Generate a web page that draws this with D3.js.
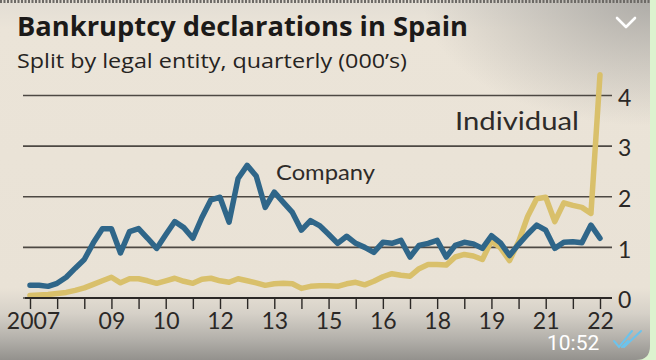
<!DOCTYPE html>
<html>
<head>
<meta charset="utf-8">
<script src="https://cdn.jsdelivr.net/npm/d3@7/dist/d3.min.js"></script>
<style>
html,body{margin:0;padding:0;background:#dcf3cf;}
svg{display:block;}
</style>
</head>
<body>
<svg id="chart" width="656" height="360"></svg>
<script>
// ---- data (thousands, quarterly 2007Q1 .. 2022Q4) ----
const company = [0.24,0.24,0.22,0.28,0.40,0.58,0.75,1.08,1.36,1.36,0.88,1.30,1.36,1.17,0.97,1.24,
  1.50,1.38,1.17,1.58,1.93,1.98,1.49,2.35,2.61,2.40,1.78,2.08,1.88,1.68,1.33,1.52,
  1.42,1.25,1.07,1.21,1.07,0.99,0.89,1.09,1.07,1.13,0.80,1.03,1.07,1.13,0.80,1.03,
  1.09,1.06,0.97,1.22,1.08,0.83,1.05,1.25,1.43,1.33,0.97,1.09,1.10,1.08,1.43,1.17];
const individual = [0.04,0.05,0.06,0.08,0.10,0.14,0.19,0.26,0.33,0.40,0.29,0.37,0.37,0.33,0.28,0.33,
  0.38,0.32,0.28,0.36,0.38,0.33,0.30,0.37,0.33,0.29,0.24,0.27,0.28,0.27,0.18,0.22,
  0.23,0.23,0.22,0.27,0.30,0.25,0.32,0.41,0.47,0.44,0.42,0.57,0.65,0.65,0.64,0.80,
  0.85,0.82,0.75,1.12,0.98,0.73,1.10,1.60,1.95,1.98,1.50,1.87,1.82,1.78,1.66,4.40];
const xTickLabels = ["2007","","","09","","10","","12","","13","","15","","16","","18","","19","","21","","22"];
const yTicks = [0,1,2,3,4];
const title = "Bankruptcy declarations in Spain";
const subtitle = "Split by legal entity, quarterly (000\u2019s)";

const svg = d3.select("#chart");
const W = 656, H = 360;

// ---- background ----
const defs = svg.append("defs");
const lg = defs.append("linearGradient").attr("id","bg").attr("x1",0).attr("y1",0).attr("x2",0).attr("y2",1);
[[0,"#e2ddd4"],[0.08,"#ebe4d8"],[0.8,"#e9e2d6"],[0.87,"#d6d1c8"],[0.94,"#b4b1ab"],[1,"#93918d"]]
  .forEach(([o,c])=>lg.append("stop").attr("offset",o).attr("stop-color",c));
const rg = defs.append("radialGradient").attr("id","corner").attr("cx",1).attr("cy",0).attr("r",0.35);
rg.append("stop").attr("offset",0).attr("stop-color","#a9a7a3").attr("stop-opacity",0.9);
rg.append("stop").attr("offset",1).attr("stop-color","#a9a7a3").attr("stop-opacity",0);

svg.append("rect").attr("x",0).attr("y",0).attr("width",650).attr("height",H)
  .attr("fill","url(#bg)");
svg.append("rect").attr("x",0).attr("y",0).attr("width",650).attr("height",H)
  .attr("fill","url(#corner)");
// dotted top edge
svg.append("line").attr("x1",0).attr("x2",650).attr("y1",1.5).attr("y2",1.5)
  .attr("stroke","#6d6a66").attr("stroke-width",3).attr("stroke-dasharray","2,1.5");
// green right border / rounded corner
svg.append("path").attr("d",`M650,0 L656,0 L656,360 L636,360 Q650,360 650,346 Z`).attr("fill","#dcf3cf");

// ---- scales ----
const x = d3.scaleLinear().domain([0, company.length-1]).range([30, 600]);
const y = d3.scaleLinear().domain([0, 4]).range([297.5, 95]);

// ---- gridlines / y axis ----
const yAxis = d3.axisRight(y).tickValues(yTicks).tickSize(-(612-23)).tickFormat(d3.format("d"));
const gy = svg.append("g").attr("transform","translate(612,0)").call(yAxis);
gy.select(".domain").remove();
gy.selectAll(".tick line").attr("stroke","#4d4843").attr("stroke-width",1.6);
gy.selectAll(".tick text").attr("x",6).attr("dy","0.45em")
  .attr("fill","#2b2826").style("font-family","Lato, 'Open Sans', sans-serif").style("font-size","23px");

// ---- lines ----
const line = d3.line().x((d,i)=>x(i)).y(d=>y(d)).curve(d3.curveLinear);
svg.append("path").datum(individual).attr("d",line).attr("fill","none")
  .attr("stroke","#d9c06b").attr("stroke-width",5.5).attr("stroke-linejoin","round").attr("stroke-linecap","round");
svg.append("path").datum(company).attr("d",line).attr("fill","none")
  .attr("stroke","#2f6689").attr("stroke-width",5.5).attr("stroke-linejoin","round").attr("stroke-linecap","round");

// ---- x axis ----
const xAxis = d3.axisBottom(x).tickValues(d3.range(0, company.length, 3))
  .tickSize(11).tickPadding(4).tickFormat((d,i)=>xTickLabels[i]);
const gx = svg.append("g").attr("transform","translate(0,298)").call(xAxis);
gx.select(".domain").attr("d","M25,0H612").attr("stroke","#2b2826").attr("stroke-width",2.2);
gx.selectAll(".tick line").attr("stroke","#2b2826").attr("stroke-width",1.4);
gx.selectAll(".tick text").attr("fill","#2b2826")
  .style("font-family","Lato, 'Open Sans', sans-serif").style("font-size","23px");
gx.selectAll(".tick text").filter((d,i)=>i===0).attr("dx",3);

// ---- labels ----
svg.append("text").attr("x",455).attr("y",130).text("Individual")
  .attr("fill","#2e2b29").style("font-family","Lato, 'Open Sans', sans-serif").style("font-size","25px")
  .attr("textLength",124).attr("lengthAdjust","spacingAndGlyphs");
svg.append("text").attr("x",276).attr("y",180).text("Company")
  .attr("fill","#2e2b29").style("font-family","Lato, 'Open Sans', sans-serif").style("font-size","22px")
  .attr("textLength",99).attr("lengthAdjust","spacingAndGlyphs");

// ---- title ----
svg.append("text").attr("x",17).attr("y",36).text(title)
  .attr("fill","#1c1a19").style("font-family","'Open Sans', Lato, sans-serif").style("font-weight","700")
  .style("font-size","26px").attr("textLength",451).attr("lengthAdjust","spacingAndGlyphs");
svg.append("text").attr("x",17).attr("y",68).text(subtitle)
  .attr("fill","#262321").style("font-family","'Open Sans', Lato, sans-serif")
  .style("font-size","19.5px").attr("textLength",390).attr("lengthAdjust","spacingAndGlyphs");

// ---- phone overlay ----
svg.append("path").attr("d","M617,18 L626,27 L635,18").attr("fill","none")
  .attr("stroke","#ffffff").attr("stroke-width",2.6).attr("stroke-linecap","round").attr("stroke-linejoin","round");
svg.append("text").attr("x",547).attr("y",350).text("10:52").attr("fill","#ffffff")
  .style("font-family","Roboto, sans-serif").style("font-size","21px");
svg.append("path").attr("d","M614,341 L619,347 L632,331 M622,347 L628,341 M624,347 L641,331")
  .attr("fill","none").attr("stroke","#6cc3ec").attr("stroke-width",2).attr("stroke-linecap","round");
</script>
</body>
</html>
